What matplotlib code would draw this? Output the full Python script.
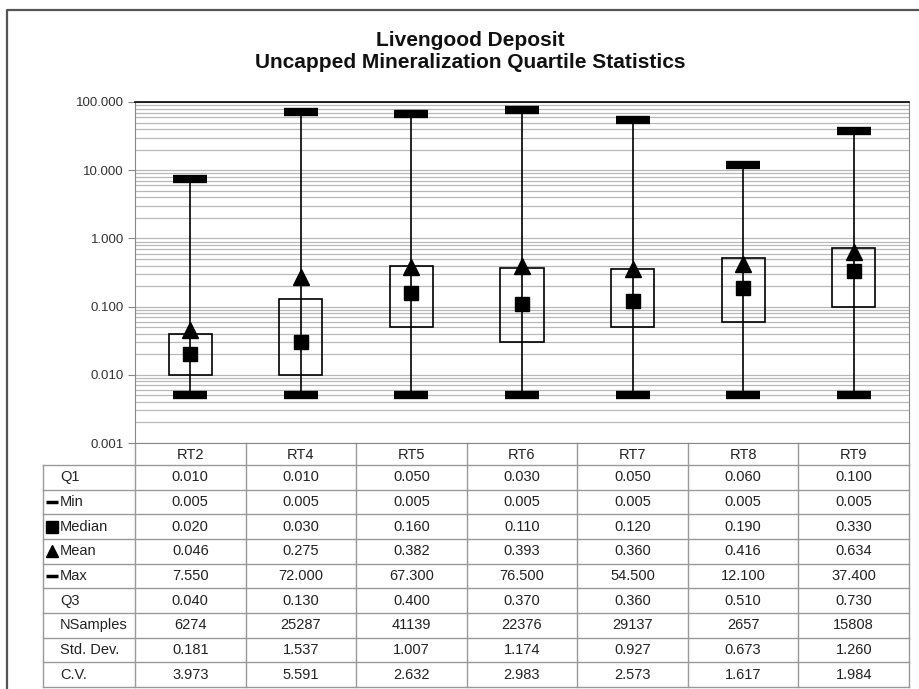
import matplotlib.pyplot as plt
from matplotlib.patches import Rectangle

plt.rcParams['font.family'] = ['Liberation Sans', 'DejaVu Sans']

groups = ["RT2", "RT4", "RT5", "RT6", "RT7", "RT8", "RT9"]
q1 = [0.010, 0.010, 0.050, 0.030, 0.050, 0.060, 0.100]
mins = [0.005, 0.005, 0.005, 0.005, 0.005, 0.005, 0.005]
medians = [0.020, 0.030, 0.160, 0.110, 0.120, 0.190, 0.330]
means = [0.046, 0.275, 0.382, 0.393, 0.360, 0.416, 0.634]
maxs = [7.550, 72.000, 67.300, 76.500, 54.500, 12.100, 37.400]
q3 = [0.040, 0.130, 0.400, 0.370, 0.360, 0.510, 0.730]
nsamples = [6274, 25287, 41139, 22376, 29137, 2657, 15808]
std_dev = [0.181, 1.537, 1.007, 1.174, 0.927, 0.673, 1.260]
cv = [3.973, 5.591, 2.632, 2.983, 2.573, 1.617, 1.984]

W, H = 920, 689
fig = plt.figure(figsize=(W / 100, H / 100), dpi=100)

# overlay in pixel units for the frame and the stats table
ov = fig.add_axes([0, 0, 1, 1], zorder=0)
ov.set_xlim(0, W)
ov.set_ylim(H, 0)
ov.axis("off")

ov.plot([7, 7, W + 5], [H + 5, 10, 10], color="#555555", lw=1.6)

fig.text(0.511, 1 - 40 / H, "Livengood Deposit", ha="center", va="center",
         fontsize=15, fontweight="bold", color="#111111")
fig.text(0.511, 1 - 63 / H, "Uncapped Mineralization Quartile Statistics",
         ha="center", va="center", fontsize=15, fontweight="bold", color="#111111")

# log-scale box plot
left, right, top, bottom = 135, 909, 102, 443
ax = fig.add_axes([left / W, 1 - bottom / H, (right - left) / W, (bottom - top) / H], zorder=1)
ax.patch.set_alpha(0)
ax.set_yscale("log")
ax.set_ylim(0.001, 100)
ax.set_xlim(-0.5, len(groups) - 0.5)
ax.set_xticks([])
ax.set_yticks([0.001, 0.01, 0.1, 1, 10, 100])
ax.set_yticklabels(["0.001", "0.010", "0.100", "1.000", "10.000", "100.000"])
ax.tick_params(axis="y", which="major", length=5, color="#888888", labelsize=9.5,
               labelcolor="#333333", pad=3)
ax.tick_params(axis="y", which="minor", length=0)
ax.yaxis.grid(True, which="both", color="#b8b8b8", lw=0.9)
ax.set_axisbelow(True)
for s in ["left", "right", "bottom"]:
    ax.spines[s].set_color("#888888")
ax.spines["top"].set_color("black")
ax.spines["top"].set_linewidth(1.2)

xs = list(range(len(groups)))
box_w = 0.39
ax.vlines(xs, mins, maxs, color="black", lw=1.2, zorder=3)
for i in xs:
    ax.add_patch(Rectangle((i - box_w / 2, q1[i]), box_w, q3[i] - q1[i],
                           fill=False, edgecolor="black", lw=1.2, zorder=3))
ax.plot(xs, mins, ls="none", marker="_", ms=25, mew=6, color="black", zorder=4)
ax.plot(xs, maxs, ls="none", marker="_", ms=25, mew=6, color="black", zorder=4)
ax.plot(xs, medians, ls="none", marker="s", ms=10.5, color="black", zorder=5)
ax.plot(xs, means, ls="none", marker="^", ms=11, color="black", zorder=5)

# stats table under the plot
col_w = (right - left) / len(groups)
row_top, row_bot = 465, 687
rows = [
    ("Q1", None, [f"{v:.3f}" for v in q1]),
    ("Min", "_", [f"{v:.3f}" for v in mins]),
    ("Median", "s", [f"{v:.3f}" for v in medians]),
    ("Mean", "^", [f"{v:.3f}" for v in means]),
    ("Max", "_", [f"{v:.3f}" for v in maxs]),
    ("Q3", None, [f"{v:.3f}" for v in q3]),
    ("NSamples", None, [str(v) for v in nsamples]),
    ("Std. Dev.", None, [f"{v:.3f}" for v in std_dev]),
    ("C.V.", None, [f"{v:.3f}" for v in cv]),
]
row_h = (row_bot - row_top) / len(rows)
lab_x = 43
grid_c = "#999999"
txt_c = "#222222"

# header row
ov.plot([left, left], [bottom, row_bot], color=grid_c, lw=1)
for j in range(1, len(groups) + 1):
    xj = left + j * col_w
    ov.plot([xj, xj], [bottom, row_bot], color=grid_c, lw=1)
for j, g in enumerate(groups):
    ov.text(left + (j + 0.5) * col_w, (bottom + row_top) / 2 + 1, g, ha="center",
            va="center", fontsize=10.5, color=txt_c)

ov.plot([lab_x, lab_x], [row_top, row_bot], color=grid_c, lw=1)
for k in range(len(rows) + 1):
    yk = row_top + k * row_h
    ov.plot([lab_x, right], [yk, yk], color=grid_c, lw=1)

for k, (name, mk, vals) in enumerate(rows):
    yc = row_top + (k + 0.5) * row_h
    if mk == "_":
        ov.plot([52], [yc], marker="_", ms=8, mew=2.5, color="black")
    elif mk is not None:
        ov.plot([52], [yc], marker=mk, ms=8, color="black")
    ov.text(60, yc, name, ha="left", va="center", fontsize=10.5, color=txt_c)
    for j, v in enumerate(vals):
        ov.text(left + (j + 0.5) * col_w, yc, v, ha="center", va="center",
                fontsize=10.5, color=txt_c)

fig.savefig("out.png", dpi=100)
